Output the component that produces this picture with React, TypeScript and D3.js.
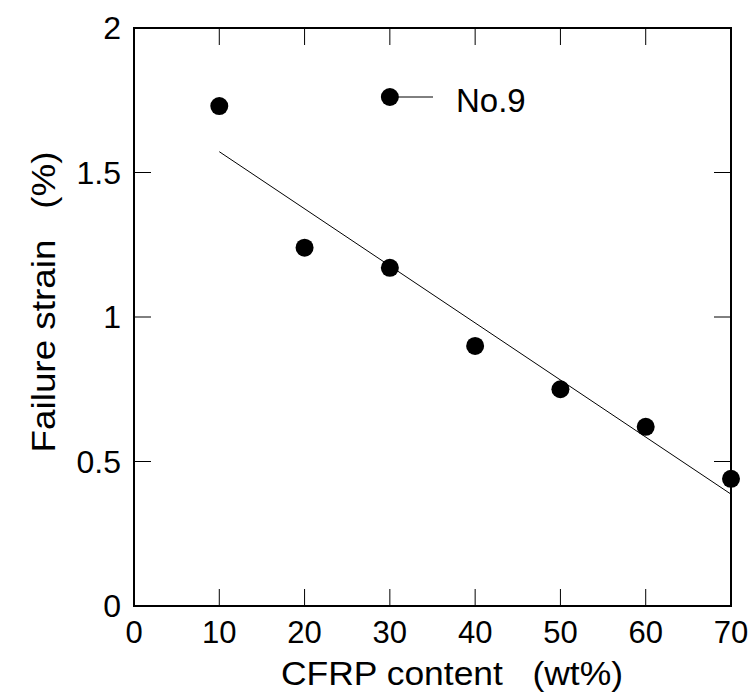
import React from "react";
import * as d3 from "d3";

const xValues = [10, 20, 30, 40, 50, 60, 70];
const yValues = [1.73, 1.24, 1.17, 0.9, 0.75, 0.62, 0.44];
const fitX = [10, 70];
const fitY = [1.572, 0.387];
const xTicks = [0, 10, 20, 30, 40, 50, 60, 70];
const yTicks = [0, 0.5, 1, 1.5, 2];
const yTickLabels = ["0", "0.5", "1", "1.5", "2"];
const legendLabel = "No.9";
const xTitle = "CFRP content   (wt%)";
const yTitle = "Failure strain   (%)";

export default function App() {
  const W = 753, H = 695;
  const left = 134, right = 731, top = 28, bottom = 606;
  const x = d3.scaleLinear().domain([0, 70]).range([left, right]);
  const y = d3.scaleLinear().domain([0, 2]).range([bottom, top]);
  const line = d3.line<number>().x((_, i) => x(fitX[i])).y((d) => y(d));
  const font = "'Liberation Sans', Arial, sans-serif";
  const tickLen = 17;
  return (
    <svg width={W} height={H} style={{ position: "absolute", left: 0, top: 0 }} fontFamily={font}>
      <rect x={0} y={0} width={W} height={H} fill="#fff" />
      {xTicks.slice(1, -1).map((t) => (
        <g key={"xt" + t}>
          <line x1={x(t)} x2={x(t)} y1={bottom} y2={bottom - tickLen} stroke="#000" strokeWidth={1} />
          <line x1={x(t)} x2={x(t)} y1={top} y2={top + tickLen} stroke="#000" strokeWidth={1} />
        </g>
      ))}
      {yTicks.slice(1, -1).map((t) => (
        <g key={"yt" + t}>
          <line x1={left} x2={left + tickLen} y1={y(t)} y2={y(t)} stroke="#000" strokeWidth={1} />
          <line x1={right} x2={right - tickLen} y1={y(t)} y2={y(t)} stroke="#000" strokeWidth={1} />
        </g>
      ))}
      <rect x={left} y={top} width={right - left} height={bottom - top} fill="none" stroke="#000" strokeWidth={2} />
      <path d={line(fitY) || ""} fill="none" stroke="#000" strokeWidth={1} />
      {xValues.map((v, i) => (
        <circle key={"p" + i} cx={x(v)} cy={y(yValues[i])} r={9} fill="#000" />
      ))}
      {xTicks.map((t) => (
        <text key={"xl" + t} x={x(t)} y={bottom + 37} fontSize={31} textAnchor="middle">
          {t}
        </text>
      ))}
      {yTicks.map((t, i) => (
        <text key={"yl" + t} x={left - 13} y={y(t) + 11} fontSize={32} textAnchor="end">
          {yTickLabels[i]}
        </text>
      ))}
      <text
        x={452}
        y={685}
        fontSize={33}
        textAnchor="middle"
        textLength={342}
        lengthAdjust="spacingAndGlyphs"
        style={{ whiteSpace: "pre" }}
        xmlSpace="preserve"
      >
        {xTitle}
      </text>
      <text
        transform={`translate(55, 302) rotate(-90)`}
        fontSize={33}
        textAnchor="middle"
        textLength={301}
        lengthAdjust="spacingAndGlyphs"
        style={{ whiteSpace: "pre" }}
        xmlSpace="preserve"
      >
        {yTitle}
      </text>
      <g>
        <line x1={x(30)} x2={433} y1={97} y2={97} stroke="#000" strokeWidth={1} />
        <circle cx={x(30)} cy={97} r={9} fill="#000" />
        <text x={456} y={112} fontSize={33}>
          {legendLabel}
        </text>
      </g>
    </svg>
  );
}
